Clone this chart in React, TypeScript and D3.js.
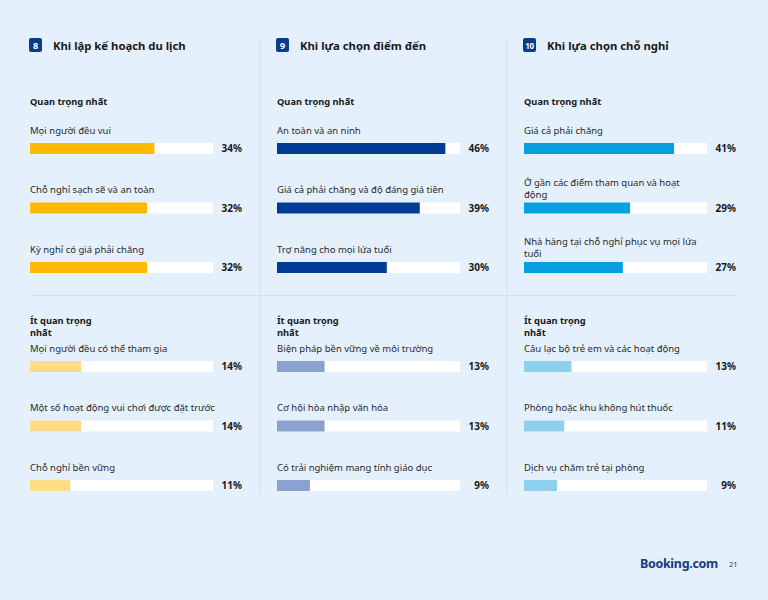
import * as d3 from 'd3';

// Survey panels: each column is one question, top block = most important, bottom = least important
const panelNumbers = ['8', '9', '10'];
const panelTitles = ['Khi lập kế hoạch du lịch', 'Khi lựa chọn điểm đến', 'Khi lựa chọn chỗ nghỉ'];
const sectionTitles = ['Quan trọng nhất', 'Ít quan trọng\nnhất'];

const topLabels = [
  ['Mọi người đều vui', 'Chỗ nghỉ sạch sẽ và an toàn', 'Kỳ nghỉ có giá phải chăng'],
  ['An toàn và an ninh', 'Giá cả phải chăng và độ đáng giá tiền', 'Trợ năng cho mọi lứa tuổi'],
  ['Giá cả phải chăng', 'Ở gần các điểm tham quan và hoạt\nđộng', 'Nhà hàng tại chỗ nghỉ phục vụ mọi lứa\ntuổi'],
];
const topValues = [
  [34, 32, 32],
  [46, 39, 30],
  [41, 29, 27],
];

const bottomLabels = [
  ['Mọi người đều có thể tham gia', 'Một số hoạt động vui chơi được đặt trước', 'Chỗ nghỉ bền vững'],
  ['Biện pháp bền vững về môi trường', 'Cơ hội hòa nhập văn hóa', 'Có trải nghiệm mang tính giáo dục'],
  ['Câu lạc bộ trẻ em và các hoạt động', 'Phòng hoặc khu không hút thuốc', 'Dịch vụ chăm trẻ tại phòng'],
];
const bottomValues = [
  [14, 14, 11],
  [13, 13, 9],
  [13, 11, 9],
];

const topColors = ['#febb02', '#003b95', '#069fe0'];
const bottomColors = ['#ffdb88', '#8ba2d0', '#8fd0ef'];

const W = 768;
const H = 600;
const FONT = '"Noto Sans", sans-serif';
const BG = '#e4f0fc';
const RULE = '#d0e1f3';
const INK = '#1a1a1a';

const colX = d3.scalePoint<number>().domain([0, 1, 2]).range([30, 524]);
const x = d3.scaleLinear().domain([0, 50]).range([0, 183]);
const topY = d3.scalePoint<number>().domain([0, 1, 2]).range([143, 262]);
const bottomY = d3.scalePoint<number>().domain([0, 1, 2]).range([361, 480]);
const barH = 11;

function Row({ x0, y, label, value, color }: { x0: number; y: number; label: string; value: number; color: string }) {
  const lines = label.split('\n');
  const first = lines.length > 1 ? y - 17 : y - 9.5;
  return (
    <g>
      <text x={x0} y={first} fontSize={9.5} fill="#2a2a2a">
        {lines.map((l, i) => (
          <tspan key={i} x={x0} dy={i === 0 ? 0 : 12}>{l}</tspan>
        ))}
      </text>
      <rect x={x0} y={y} width={x(50)} height={barH} fill="#ffffff" />
      <rect x={x0} y={y} width={x(value)} height={barH} fill={color} />
      <text x={x0 + 212} y={y + barH / 2 + 3.5} textAnchor="end" fontSize={10} fontWeight={700} fill={INK}>
        {value}%
      </text>
    </g>
  );
}

export default function App() {
  return (
    <svg width={W} height={H} style={{ position: 'absolute', left: 0, top: 0, display: 'block' }} fontFamily={FONT}>
      <rect width={W} height={H} fill={BG} />

      {/* column and section dividers */}
      {[260, 507].map(v => (
        <line key={v} x1={v} x2={v} y1={40} y2={495} stroke={RULE} strokeWidth={1} />
      ))}
      <line x1={30} x2={738} y1={295.5} y2={295.5} stroke={RULE} strokeWidth={1} />

      {panelTitles.map((title, p) => {
        const x0 = colX(p)!;
        return (
          <g key={p}>
            <rect x={x0 - 1} y={38} width={13} height={14} rx={2} fill="#0c3b8c" />
            <text x={x0 + 5.5} y={48.5} textAnchor="middle" fontSize={panelNumbers[p].length > 1 ? 8 : 9}
              fontWeight={700} fill="#fff" letterSpacing={panelNumbers[p].length > 1 ? -0.4 : 0}>
              {panelNumbers[p]}
            </text>
            <text x={x0 + 23} y={50} fontSize={11.3} fontWeight={700} fill={INK}>{title}</text>

            {sectionTitles.map((s, si) => (
              <text key={si} x={x0} y={si === 0 ? 105 : 324} fontSize={9.3} fontWeight={700} fill={INK}>
                {s.split('\n').map((l, i) => (
                  <tspan key={i} x={x0} dy={i === 0 ? 0 : 12}>{l}</tspan>
                ))}
              </text>
            ))}

            {topLabels[p].map((label, i) => (
              <Row key={'t' + i} x0={x0} y={topY(i)!} label={label} value={topValues[p][i]} color={topColors[p]} />
            ))}
            {bottomLabels[p].map((label, i) => (
              <Row key={'b' + i} x0={x0} y={bottomY(i)!} label={label} value={bottomValues[p][i]} color={bottomColors[p]} />
            ))}
          </g>
        );
      })}

      <text x={718} y={568} textAnchor="end" fontSize={12.5} fontWeight={700} fill="#1b3a7c" letterSpacing={-0.3}>
        Booking.com
      </text>
      <text x={729} y={567} fontSize={7.5} fill="#1b3a7c">21</text>
    </svg>
  );
}
